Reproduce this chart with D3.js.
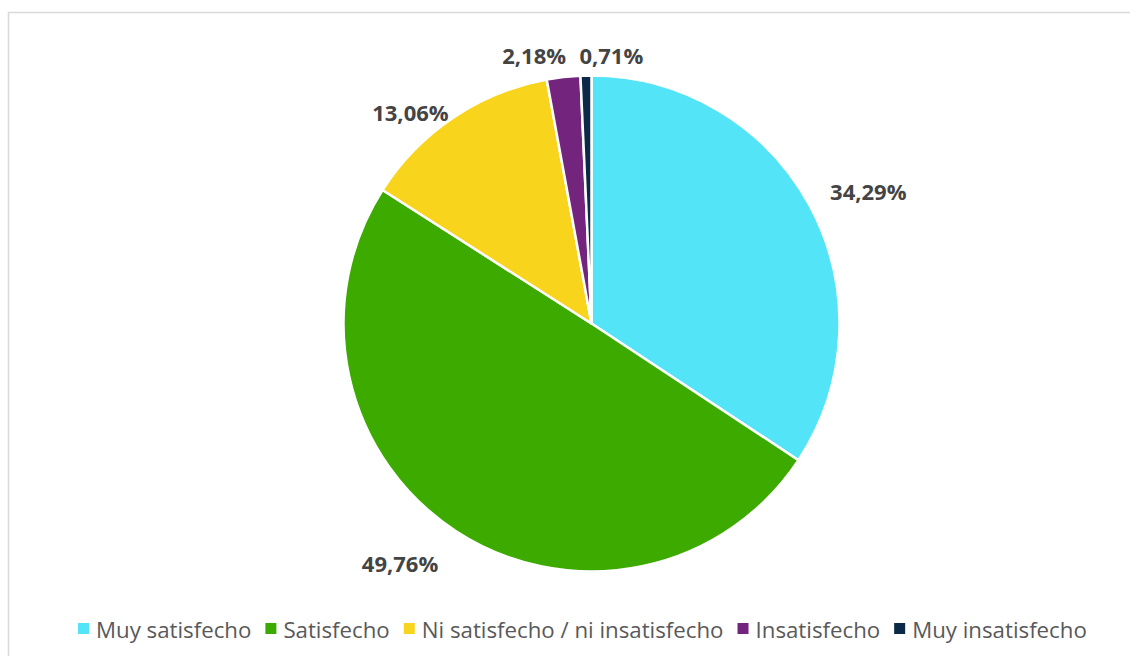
<!DOCTYPE html>
<html><head><meta charset="utf-8">
<script src="https://cdn.jsdelivr.net/npm/d3@7"></script>
<style>body{margin:0;background:#fff}svg{display:block}</style>
</head><body>
<svg id="c" width="1130" height="656"></svg>
<script>
const categories = ["Muy satisfecho","Satisfecho","Ni satisfecho / ni insatisfecho","Insatisfecho","Muy insatisfecho"];
const values = [34.29, 49.76, 13.06, 2.18, 0.71];
const labels = ["34,29%","49,76%","13,06%","2,18%","0,71%"];
const colors = ["#54E4F7","#3DAA00","#F8D41D","#73247D","#0C2A48"];

const svg = d3.select("#c");
svg.append("rect").attr("x",8.5).attr("y",12.5).attr("width",1140).attr("height",700)
  .attr("fill","#fff").attr("stroke","#d9d9d9").attr("stroke-width",1.5);

const cx = 591.5, cy = 323.5, R = 248;
const g = svg.append("g").attr("transform",`translate(${cx},${cy})`);
const pie = d3.pie().sort(null).value(d=>d)(values);
const arc = d3.arc().innerRadius(0).outerRadius(R);
g.selectAll("path").data(pie).join("path")
  .attr("d",arc).attr("fill",(d,i)=>colors[i])
  .attr("stroke","#fff").attr("stroke-width",2.5).attr("stroke-linejoin","round");

// labels outside the pie
const labelArc = d3.arc().innerRadius(R+30).outerRadius(R+30);
const offsets = [[32,-1],[-40,6],[-26,19],[-26,8],[26,9]];
g.selectAll("text.lbl").data(pie).join("text").attr("class","lbl")
  .attr("x",(d,i)=>{const c=labelArc.centroid(d);return c[0]+offsets[i][0];})
  .attr("y",(d,i)=>{const c=labelArc.centroid(d);return c[1]+offsets[i][1];})
  .attr("text-anchor","middle").attr("dominant-baseline","central")
  .attr("font-family","'Open Sans', sans-serif").attr("font-weight","bold")
  .attr("font-size",22).attr("fill","#444")
  .text((d,i)=>labels[i]);

// legend
const lg = svg.append("g");
const targetW = 1009;
function build(fs){
  lg.selectAll("*").remove();
  let x = 0;
  categories.forEach((c,i)=>{
    const it = lg.append("g");
    it.append("rect").attr("x",0).attr("y",-6).attr("width",11).attr("height",11).attr("fill",colors[i]);
    const t = it.append("text").attr("x",18).attr("y",0).attr("dominant-baseline","central")
      .attr("font-family","'Open Sans', sans-serif").attr("font-size",fs).attr("fill","#595959").text(c);
    const w = t.node().getComputedTextLength();
    it.attr("transform",`translate(${x},0)`);
    x += 18 + w + 14;
  });
  return x - 14;
}
let fs = 20;
let tw = build(fs);
fs = fs * (targetW - 5*32 + 14) / (tw - 5*32 + 14);
tw = build(fs);
lg.attr("transform",`translate(${78},629)`);
</script>
</body></html>
